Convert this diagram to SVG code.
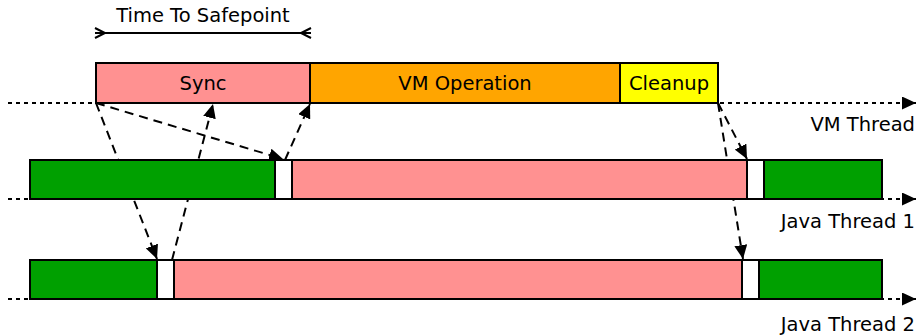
<svg xmlns="http://www.w3.org/2000/svg" width="917" height="335" viewBox="0 0 917 335">
<defs>
<marker id="ah" markerUnits="userSpaceOnUse" markerWidth="15" markerHeight="13" refX="14" refY="6.5" orient="auto"><path d="M0,0 L14,6.5 L0,13 z" fill="#000"/></marker>
<style>
.box{stroke:#000;stroke-width:2}
.pink{fill:#ff9191}
.orange{fill:#ffa500}
.yellow{fill:#ffff00}
.green{fill:#00a000}
.white{fill:#fff}
.tl{stroke:#000;stroke-width:2;stroke-dasharray:4,4;fill:none}
.conn{stroke:#000;stroke-width:2;stroke-dasharray:9,6;fill:none}
text{font-family:"DejaVu Sans",sans-serif;font-size:19.5px;fill:#000}
</style>
</defs>
<rect width="917" height="335" fill="#fff"/>
<g id="timelines">
<line class="tl" x1="8" y1="103" x2="916" y2="103" marker-end="url(#ah)"/>
<line class="tl" x1="8" y1="199" x2="916" y2="199" marker-end="url(#ah)"/>
<line class="tl" x1="8" y1="299" x2="916" y2="299" marker-end="url(#ah)"/>
</g>
<g id="connectors">
<line class="conn" x1="96" y1="103" x2="157" y2="259" marker-end="url(#ah)"/>
<line class="conn" x1="172" y1="260" x2="213" y2="104" marker-end="url(#ah)"/>
<line class="conn" x1="96" y1="103" x2="283" y2="159" marker-end="url(#ah)"/>
<line class="conn" x1="285" y1="160" x2="310" y2="104" marker-end="url(#ah)"/>
<line class="conn" x1="718" y1="103" x2="747" y2="159" marker-end="url(#ah)"/>
<line class="conn" x1="718" y1="103" x2="743" y2="259" marker-end="url(#ah)"/>
</g>
<g id="tts">
<line x1="95" y1="33" x2="311" y2="33" stroke="#000" stroke-width="2"/>
<path d="M95,28 L105,33 L95,38 M311,28 L301,33 L311,38" fill="none" stroke="#000" stroke-width="2"/>
<text x="203" y="22" text-anchor="middle">Time To Safepoint</text>
</g>
<g id="vm-thread">
<rect class="box pink" x="96" y="63" width="214" height="40"/>
<text x="203" y="90" text-anchor="middle">Sync</text>
<rect class="box orange" x="310" y="63" width="310" height="40"/>
<text x="465" y="90" text-anchor="middle">VM Operation</text>
<rect class="box yellow" x="620" y="63" width="98" height="40"/>
<text x="669" y="90" text-anchor="middle">Cleanup</text>
<text x="915" y="131" text-anchor="end">VM Thread</text>
</g>
<g id="java-thread-1">
<rect class="box green" x="30" y="160" width="245" height="39"/>
<rect class="box white" x="275" y="160" width="17" height="39"/>
<rect class="box pink" x="292" y="160" width="455" height="39"/>
<rect class="box white" x="747" y="160" width="17" height="39"/>
<rect class="box green" x="764" y="160" width="118" height="39"/>
<text x="915" y="228" text-anchor="end">Java Thread 1</text>
</g>
<g id="java-thread-2">
<rect class="box green" x="30" y="260" width="127" height="39"/>
<rect class="box white" x="157" y="260" width="17" height="39"/>
<rect class="box pink" x="174" y="260" width="568" height="39"/>
<rect class="box white" x="742" y="260" width="17" height="39"/>
<rect class="box green" x="759" y="260" width="123" height="39"/>
<text x="915" y="331" text-anchor="end">Java Thread 2</text>
</g>
</svg>
